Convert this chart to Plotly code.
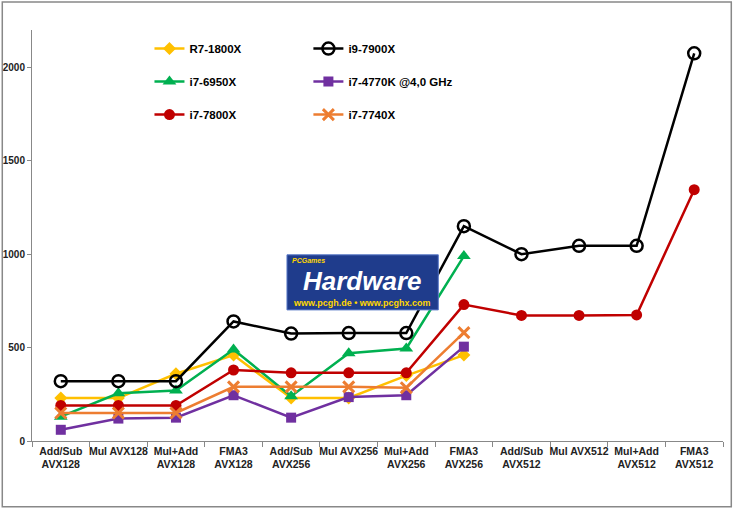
import plotly.graph_objects as go

categories = ["Add/Sub<br>AVX128", "Mul AVX128", "Mul+Add<br>AVX128", "FMA3<br>AVX128",
              "Add/Sub<br>AVX256", "Mul AVX256", "Mul+Add<br>AVX256", "FMA3<br>AVX256",
              "Add/Sub<br>AVX512", "Mul AVX512", "Mul+Add<br>AVX512", "FMA3<br>AVX512"]
r7_1800x = [230, 230, 360, 460, 230, 230, 350, 460]
i9_7900x = [320, 320, 320, 640, 575, 578, 578, 1150, 1000, 1045, 1045, 2075]
i7_6950x = [130, 255, 270, 490, 240, 470, 495, 990]
i7_4770k = [60, 120, 125, 245, 125, 235, 245, 505]
i7_7800x = [190, 190, 190, 380, 365, 365, 365, 730, 672, 672, 675, 1345]
i7_7740x = [150, 150, 150, 290, 290, 290, 285, 580]

series = [
    ("R7-1800X", r7_1800x, "#FFC000", dict(symbol="diamond", size=10), "legend"),
    ("i7-6950X", i7_6950x, "#00B050", dict(symbol="triangle-up", size=12), "legend"),
    ("i7-7800X", i7_7800x, "#C00000", dict(symbol="circle", size=11), "legend"),
    ("i9-7900X", i9_7900x, "#000000", dict(symbol="circle-open", size=12, line=dict(width=2.5)), "legend2"),
    ("i7-4770K @4,0 GHz", i7_4770k, "#7030A0", dict(symbol="square", size=10), "legend2"),
    ("i7-7740X", i7_7740x, "#ED7D31", dict(symbol="x-thin-open", size=11, line=dict(width=3, color="#ED7D31")), "legend2"),
]

fig = go.Figure()
for name, vals, color, marker, lg in series:
    m = dict(color=color, **marker)
    fig.add_trace(go.Scatter(x=categories[:len(vals)], y=vals, name=name, mode="lines+markers",
                             line=dict(color=color, width=2.5), marker=m, legend=lg,
                             legendgroup=name))

bold = dict(family="Liberation Sans Narrow, Liberation Sans", size=11.5, color="black", weight="bold")
fig.update_layout(
    width=735, height=509,
    margin=dict(l=32, r=12, t=30, b=68, autoexpand=False),
    paper_bgcolor="white", plot_bgcolor="white",
    font=dict(family="Liberation Sans Narrow, Liberation Sans", size=11, color="#222"),
    legend=dict(x=0.17, y=0.99, xanchor="left", yanchor="top", bgcolor="rgba(0,0,0,0)",
                tracegroupgap=14, itemwidth=30, font=bold),
    legend2=dict(x=0.40, y=0.99, xanchor="left", yanchor="top", bgcolor="rgba(0,0,0,0)",
                 tracegroupgap=14, itemwidth=30, font=bold),
    showlegend=True,
)
fig.update_xaxes(type="category", categoryorder="array", categoryarray=categories,
                 range=[-0.5, 11.5], showline=True, linecolor="#888", linewidth=1,
                 ticks="outside", tickson="boundaries", ticklen=5, tickcolor="#888",
                 showgrid=False, tickangle=0, tickfont=dict(size=10.5, color="#222", weight="bold"))
fig.update_yaxes(range=[0, 2200], tickvals=[0, 500, 1000, 1500, 2000], showline=True,
                 linecolor="#888", ticks="outside", ticklen=4, tickcolor="#888",
                 showgrid=False, zeroline=False, tickfont=dict(size=10, color="#222", weight="bold"))

fig.add_shape(type="rect", xref="paper", yref="paper", x0=-0.043, x1=1.012, y0=-0.16, y1=1.068,
              line=dict(color="#888", width=1.5))
# Logo box
fig.add_shape(type="rect", xref="paper", yref="paper", x0=0.369, x1=0.588, y0=0.319, y1=0.453,
              fillcolor="#1F3C8C", line=dict(color="#5A7AC8", width=1))
fig.add_annotation(xref="paper", yref="paper", x=0.478, y=0.39, text="<b><i>Hardware</i></b>",
                   showarrow=False, font=dict(family="Liberation Sans", size=26, color="white"))
fig.add_annotation(xref="paper", yref="paper", x=0.374, y=0.453, xanchor="left", yanchor="top",
                   text="<b><i>PCGames</i></b>",
                   showarrow=False, font=dict(family="Liberation Sans", size=7, color="#FFD700"))
fig.add_annotation(xref="paper", yref="paper", x=0.478, y=0.335, text="<b>www.pcgh.de • www.pcghx.com</b>",
                   showarrow=False, font=dict(family="Liberation Sans", size=9, color="#FFD700"))

fig.write_html("out.html", config={"displayModeBar": False},
               post_script="document.body.style.margin='0';")
